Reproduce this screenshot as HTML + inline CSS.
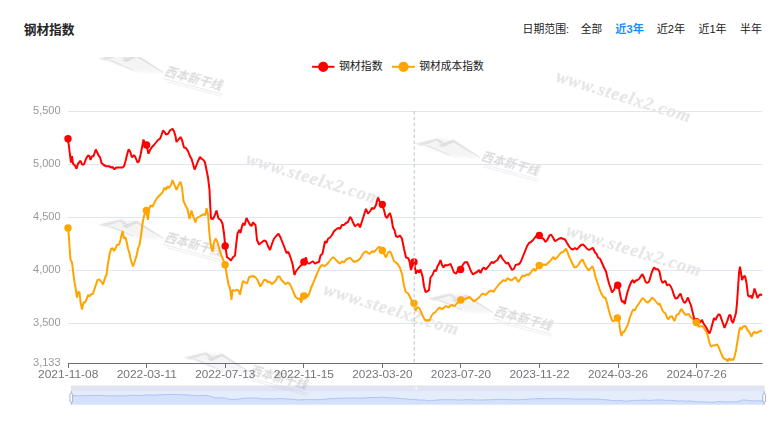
<!DOCTYPE html>
<html lang="zh"><head><meta charset="utf-8"><title>钢材指数</title>
<style>html,body{margin:0;padding:0;background:#fff;width:772px;height:424px;overflow:hidden;font-family:"Liberation Sans",sans-serif}</style>
</head><body>
<svg width="772" height="424" viewBox="0 0 772 424" style="display:block;position:absolute;left:0;top:0">
<defs><filter id="bl" x="-20%" y="-40%" width="140%" height="180%"><feGaussianBlur stdDeviation="1.6"/></filter><filter id="b2" x="-5%" y="-20%" width="110%" height="140%"><feGaussianBlur stdDeviation="0.35"/></filter></defs>
<rect width="772" height="424" fill="#fff"/>
<clipPath id="wmc"><rect x="0" y="57" width="772" height="367"/></clipPath><g clip-path="url(#wmc)">
<g transform="translate(98 58.6) rotate(15)" fill="#000"><path filter="url(#bl)" opacity="0.04" d="M2,-1 L20,-11 L37,-14 L66,-3 L42,3 L14,0.5 Z"/><path opacity="0.075" d="M0,0 L21,-11.2 L28.5,-8 L24.5,-6.6 L20.5,-8.6 L7,0.4 Z"/><path opacity="0.085" d="M23.5,-5 L36.4,-14 L67.5,-3.9 L66.5,-3 L37,-11.2 L28,-3.8 Z"/><path opacity="0.075" d="M8,-0.6 L14,-2 L37.3,1.5 L36.2,2.6 L14,-0.5 Z"/><g transform="translate(70.2 -11.8) skewX(-13)" opacity="0.15" filter="url(#b2)"><text x="0" y="10.9" font-family="Liberation Sans, Noto Sans CJK SC, sans-serif" font-weight="bold" font-size="12" fill="#000" textLength="59" lengthAdjust="spacingAndGlyphs">西本新干线</text></g><rect x="68" y="1.9" width="62" height="0.7" opacity="0.10"/><rect x="72" y="3.6" width="57" height="1.7" opacity="0.045"/></g>
<g transform="translate(414.7 143.7) rotate(15)" fill="#000"><path filter="url(#bl)" opacity="0.04" d="M2,-1 L20,-11 L37,-14 L66,-3 L42,3 L14,0.5 Z"/><path opacity="0.075" d="M0,0 L21,-11.2 L28.5,-8 L24.5,-6.6 L20.5,-8.6 L7,0.4 Z"/><path opacity="0.085" d="M23.5,-5 L36.4,-14 L67.5,-3.9 L66.5,-3 L37,-11.2 L28,-3.8 Z"/><path opacity="0.075" d="M8,-0.6 L14,-2 L37.3,1.5 L36.2,2.6 L14,-0.5 Z"/><g transform="translate(70.2 -11.8) skewX(-13)" opacity="0.15" filter="url(#b2)"><text x="0" y="10.9" font-family="Liberation Sans, Noto Sans CJK SC, sans-serif" font-weight="bold" font-size="12" fill="#000" textLength="59" lengthAdjust="spacingAndGlyphs">西本新干线</text></g><rect x="68" y="1.9" width="62" height="0.7" opacity="0.10"/><rect x="72" y="3.6" width="57" height="1.7" opacity="0.045"/></g>
<g transform="translate(98 224.6) rotate(15)" fill="#000"><path filter="url(#bl)" opacity="0.04" d="M2,-1 L20,-11 L37,-14 L66,-3 L42,3 L14,0.5 Z"/><path opacity="0.075" d="M0,0 L21,-11.2 L28.5,-8 L24.5,-6.6 L20.5,-8.6 L7,0.4 Z"/><path opacity="0.085" d="M23.5,-5 L36.4,-14 L67.5,-3.9 L66.5,-3 L37,-11.2 L28,-3.8 Z"/><path opacity="0.075" d="M8,-0.6 L14,-2 L37.3,1.5 L36.2,2.6 L14,-0.5 Z"/><g transform="translate(70.2 -11.8) skewX(-13)" opacity="0.15" filter="url(#b2)"><text x="0" y="10.9" font-family="Liberation Sans, Noto Sans CJK SC, sans-serif" font-weight="bold" font-size="12" fill="#000" textLength="59" lengthAdjust="spacingAndGlyphs">西本新干线</text></g><rect x="68" y="1.9" width="62" height="0.7" opacity="0.10"/><rect x="72" y="3.6" width="57" height="1.7" opacity="0.045"/></g>
<g transform="translate(427.6 298.6) rotate(15)" fill="#000"><path filter="url(#bl)" opacity="0.04" d="M2,-1 L20,-11 L37,-14 L66,-3 L42,3 L14,0.5 Z"/><path opacity="0.075" d="M0,0 L21,-11.2 L28.5,-8 L24.5,-6.6 L20.5,-8.6 L7,0.4 Z"/><path opacity="0.085" d="M23.5,-5 L36.4,-14 L67.5,-3.9 L66.5,-3 L37,-11.2 L28,-3.8 Z"/><path opacity="0.075" d="M8,-0.6 L14,-2 L37.3,1.5 L36.2,2.6 L14,-0.5 Z"/><g transform="translate(70.2 -11.8) skewX(-13)" opacity="0.15" filter="url(#b2)"><text x="0" y="10.9" font-family="Liberation Sans, Noto Sans CJK SC, sans-serif" font-weight="bold" font-size="12" fill="#000" textLength="59" lengthAdjust="spacingAndGlyphs">西本新干线</text></g><rect x="68" y="1.9" width="62" height="0.7" opacity="0.10"/><rect x="72" y="3.6" width="57" height="1.7" opacity="0.045"/></g>
<g transform="translate(183.2 357.6) rotate(15)" fill="#000"><path filter="url(#bl)" opacity="0.04" d="M2,-1 L20,-11 L37,-14 L66,-3 L42,3 L14,0.5 Z"/><path opacity="0.075" d="M0,0 L21,-11.2 L28.5,-8 L24.5,-6.6 L20.5,-8.6 L7,0.4 Z"/><path opacity="0.085" d="M23.5,-5 L36.4,-14 L67.5,-3.9 L66.5,-3 L37,-11.2 L28,-3.8 Z"/><path opacity="0.075" d="M8,-0.6 L14,-2 L37.3,1.5 L36.2,2.6 L14,-0.5 Z"/><g transform="translate(70.2 -11.8) skewX(-13)" opacity="0.15" filter="url(#b2)"><text x="0" y="10.9" font-family="Liberation Sans, Noto Sans CJK SC, sans-serif" font-weight="bold" font-size="12" fill="#000" textLength="59" lengthAdjust="spacingAndGlyphs">西本新干线</text></g><rect x="68" y="1.9" width="62" height="0.7" opacity="0.10"/><rect x="72" y="3.6" width="57" height="1.7" opacity="0.045"/></g>
<text transform="translate(554.9 81) rotate(17.2)" font-family="Liberation Serif, serif" font-weight="bold" font-style="italic" font-size="18" fill="#000" stroke="#000" stroke-width="0.45" opacity="0.095" textLength="140" lengthAdjust="spacing">www.steelx2.com</text>
<text transform="translate(244.9 163.2) rotate(17.2)" font-family="Liberation Serif, serif" font-weight="bold" font-style="italic" font-size="18" fill="#000" stroke="#000" stroke-width="0.45" opacity="0.095" textLength="140" lengthAdjust="spacing">www.steelx2.com</text>
<text transform="translate(565.2 234.9) rotate(17.2)" font-family="Liberation Serif, serif" font-weight="bold" font-style="italic" font-size="18" fill="#000" stroke="#000" stroke-width="0.45" opacity="0.095" textLength="140" lengthAdjust="spacing">www.steelx2.com</text>
<text transform="translate(322.6 294) rotate(17.2)" font-family="Liberation Serif, serif" font-weight="bold" font-style="italic" font-size="18" fill="#000" stroke="#000" stroke-width="0.45" opacity="0.095" textLength="140" lengthAdjust="spacing">www.steelx2.com</text>
</g>
<text x="23.7" y="33.9" font-family="Liberation Sans, Noto Sans CJK SC, sans-serif" font-weight="bold" font-size="12.7" fill="#262626" textLength="50.8" lengthAdjust="spacingAndGlyphs">钢材指数</text>
<text x="522.6" y="33.2" font-family="Liberation Sans, Noto Sans CJK SC, sans-serif" font-size="11" fill="#222" textLength="46.5" lengthAdjust="spacingAndGlyphs">日期范围:</text>
<text x="580.8" y="33.2" font-family="Liberation Sans, Noto Sans CJK SC, sans-serif" font-size="11" fill="#222" textLength="21.3" lengthAdjust="spacingAndGlyphs">全部</text>
<text x="615.3" y="33.2" font-family="Liberation Sans, Noto Sans CJK SC, sans-serif" font-weight="bold" font-size="11" fill="#1890ff" textLength="28.7" lengthAdjust="spacingAndGlyphs">近3年</text>
<text x="656.7" y="33.2" font-family="Liberation Sans, Noto Sans CJK SC, sans-serif" font-size="11" fill="#222" textLength="28.6" lengthAdjust="spacingAndGlyphs">近2年</text>
<text x="698.5" y="33.2" font-family="Liberation Sans, Noto Sans CJK SC, sans-serif" font-size="11" fill="#222" textLength="28.1" lengthAdjust="spacingAndGlyphs">近1年</text>
<text x="740" y="33.2" font-family="Liberation Sans, Noto Sans CJK SC, sans-serif" font-size="11" fill="#222" textLength="21.9" lengthAdjust="spacingAndGlyphs">半年</text>
<line x1="312.1" y1="66.8" x2="334.5" y2="66.8" stroke="#ff0000" stroke-width="2"/>
<circle cx="323.2" cy="66.8" r="5.1" fill="#ff0000"/>
<text x="338.9" y="70" font-family="Liberation Sans, Noto Sans CJK SC, sans-serif" font-size="11" fill="#222" textLength="43.7" lengthAdjust="spacingAndGlyphs">钢材指数</text>
<line x1="392" y1="66.8" x2="414.8" y2="66.8" stroke="#ffa500" stroke-width="2"/>
<circle cx="403.5" cy="66.8" r="5.1" fill="#ffa500"/>
<text x="419.2" y="70" font-family="Liberation Sans, Noto Sans CJK SC, sans-serif" font-size="11" fill="#222" textLength="64.5" lengthAdjust="spacingAndGlyphs">钢材成本指数</text>
<line x1="68" y1="111.5" x2="762" y2="111.5" stroke="#E0E6F1" stroke-width="1"/>
<line x1="68" y1="164.5" x2="762" y2="164.5" stroke="#E0E6F1" stroke-width="1"/>
<line x1="68" y1="217.5" x2="762" y2="217.5" stroke="#E0E6F1" stroke-width="1"/>
<line x1="68" y1="270.5" x2="762" y2="270.5" stroke="#E0E6F1" stroke-width="1"/>
<line x1="68" y1="323.5" x2="762" y2="323.5" stroke="#E0E6F1" stroke-width="1"/>
<g id="txt" opacity="0.999">
<text x="60.6" y="113.7" text-anchor="end" font-family="Liberation Sans, sans-serif" font-size="11.3" fill="#999" textLength="27.6" lengthAdjust="spacingAndGlyphs">5,500</text>
<text x="60.6" y="166.7" text-anchor="end" font-family="Liberation Sans, sans-serif" font-size="11.3" fill="#999" textLength="27.6" lengthAdjust="spacingAndGlyphs">5,000</text>
<text x="60.6" y="219.7" text-anchor="end" font-family="Liberation Sans, sans-serif" font-size="11.3" fill="#999" textLength="27.6" lengthAdjust="spacingAndGlyphs">4,500</text>
<text x="60.6" y="272.7" text-anchor="end" font-family="Liberation Sans, sans-serif" font-size="11.3" fill="#999" textLength="27.6" lengthAdjust="spacingAndGlyphs">4,000</text>
<text x="60.6" y="325.7" text-anchor="end" font-family="Liberation Sans, sans-serif" font-size="11.3" fill="#999" textLength="27.6" lengthAdjust="spacingAndGlyphs">3,500</text>
<text x="60.6" y="365.7" text-anchor="end" font-family="Liberation Sans, sans-serif" font-size="11.3" fill="#999" textLength="27.6" lengthAdjust="spacingAndGlyphs">3,133</text>
<line x1="68" y1="363.5" x2="762.5" y2="363.5" stroke="#6E7079" stroke-width="1"/>
<line x1="68.5" y1="363.5" x2="68.5" y2="368.0" stroke="#6E7079" stroke-width="1"/>
<line x1="146.5" y1="363.5" x2="146.5" y2="368.0" stroke="#6E7079" stroke-width="1"/>
<line x1="225.5" y1="363.5" x2="225.5" y2="368.0" stroke="#6E7079" stroke-width="1"/>
<line x1="303.5" y1="363.5" x2="303.5" y2="368.0" stroke="#6E7079" stroke-width="1"/>
<line x1="382.5" y1="363.5" x2="382.5" y2="368.0" stroke="#6E7079" stroke-width="1"/>
<line x1="460.5" y1="363.5" x2="460.5" y2="368.0" stroke="#6E7079" stroke-width="1"/>
<line x1="539.5" y1="363.5" x2="539.5" y2="368.0" stroke="#6E7079" stroke-width="1"/>
<line x1="618.5" y1="363.5" x2="618.5" y2="368.0" stroke="#6E7079" stroke-width="1"/>
<line x1="696.5" y1="363.5" x2="696.5" y2="368.0" stroke="#6E7079" stroke-width="1"/>
<text x="68.2" y="377.8" text-anchor="middle" font-family="Liberation Sans, sans-serif" font-size="10.2" fill="#73757e" textLength="60.2" lengthAdjust="spacingAndGlyphs">2021-11-08</text>
<text x="146.75" y="377.8" text-anchor="middle" font-family="Liberation Sans, sans-serif" font-size="10.2" fill="#73757e" textLength="60.2" lengthAdjust="spacingAndGlyphs">2022-03-11</text>
<text x="225.3" y="377.8" text-anchor="middle" font-family="Liberation Sans, sans-serif" font-size="10.2" fill="#73757e" textLength="60.2" lengthAdjust="spacingAndGlyphs">2022-07-13</text>
<text x="303.85" y="377.8" text-anchor="middle" font-family="Liberation Sans, sans-serif" font-size="10.2" fill="#73757e" textLength="60.2" lengthAdjust="spacingAndGlyphs">2022-11-15</text>
<text x="382.4" y="377.8" text-anchor="middle" font-family="Liberation Sans, sans-serif" font-size="10.2" fill="#73757e" textLength="60.2" lengthAdjust="spacingAndGlyphs">2023-03-20</text>
<text x="460.95" y="377.8" text-anchor="middle" font-family="Liberation Sans, sans-serif" font-size="10.2" fill="#73757e" textLength="60.2" lengthAdjust="spacingAndGlyphs">2023-07-20</text>
<text x="539.5" y="377.8" text-anchor="middle" font-family="Liberation Sans, sans-serif" font-size="10.2" fill="#73757e" textLength="60.2" lengthAdjust="spacingAndGlyphs">2023-11-22</text>
<text x="618.05" y="377.8" text-anchor="middle" font-family="Liberation Sans, sans-serif" font-size="10.2" fill="#73757e" textLength="60.2" lengthAdjust="spacingAndGlyphs">2024-03-26</text>
<text x="696.6" y="377.8" text-anchor="middle" font-family="Liberation Sans, sans-serif" font-size="10.2" fill="#73757e" textLength="60.2" lengthAdjust="spacingAndGlyphs">2024-07-26</text>
</g>
<polyline fill="none" stroke="#ffa500" stroke-width="2" stroke-linejoin="bevel" points="68.25,228 69.5,246 70.5,259.75 72,262.25 73,271 74.5,282.25 75.5,287.5 77,297.5 78,292 79.5,292.5 80.5,302 82,309.5 83.5,302.5 85,302.5 86.5,299.5 88,295 89.5,296.25 91,294.5 93,293.75 95,287.5 97.5,280 99.5,279.5 101.5,282 103,284.5 105,278 106.5,274.75 108,263.5 109.5,254.75 111,249 112.5,248 114,251 115.5,248.5 117,244.75 119,244.75 120.5,239.75 122.5,231 124,238.5 125.5,237.25 127,243.5 128,248.5 129.5,253.5 131,260.5 133,266.5 134.5,262.25 136.5,256 138,248.5 139.5,244.75 141,236 142.5,223.5 144,216 146.25,210.5 148,219.75 149,210 150.5,205.25 152.5,206.75 155,201.25 157.5,197.5 160,195 162.5,192.5 164.5,187.5 166,190 167.5,186.25 169,188 171,185 172.5,180 174.5,185 176.5,190 178.5,185 180.5,181.75 182,187.5 183.5,201 185.5,205.5 187.5,209.25 189.5,219 191.5,210.5 193.5,217.25 195.5,222.5 196.5,218.4 197.9,217.5 199.7,216.5 201.6,215.3 204.1,214.3 205.3,215.3 206.6,208.1 208.1,215 209,228.5 210,239.75 211.5,248.5 212.5,251.5 214,242.25 215.5,238.5 217.5,242.25 219.5,249.75 221.5,256 223.5,260.5 225,264.75 227,276 228.5,284.75 230,288 231.5,299.75 232.5,289.75 234.5,291 236.5,289.75 238.5,290.5 240,294.75 241.5,287.25 243,281 245,282.25 247,283.5 249,277.25 251,276.5 253,276 255.5,277.25 257.5,280 260.25,286.5 262.25,283.25 264.25,279.75 266.25,280.25 268.25,282.5 269.75,281.5 271.75,284.25 273.75,282.5 275.75,280.5 277.75,276.5 279.5,276.5 281.5,280 283.5,282 285.5,284.25 287.5,282.75 289.5,283.5 291.5,287.25 293.5,292.25 295.5,297 298,299 300,298.25 301,302.5 303.75,296 306,293.25 307.5,297 309.5,293 311,288 313,283.5 315,278.5 317,274 319,269 321,265.75 322.5,265 324.5,266.25 326.5,264.5 328.5,262.5 330.5,260 332.5,257.5 334,257.5 336,260 338,262 340,263.75 342,261.25 344,262.5 346,259.5 348,258.75 350,257.5 352,260 354,262 356,261.25 358,260.5 360,258.75 362,255.5 364,252.5 366,251.25 368,253 370,253.75 372,251.25 374,252 376,250 378,247.5 380,247 382,250.5 384,253.75 386,257.5 388,252.5 390,251.25 392,255.5 394,261.25 396,262.5 398,264.5 400.25,268.5 402.25,275 403.75,284.5 405.75,292 408.25,293.5 410.5,298.25 413.25,303.25 415.5,310.75 417.5,307 419.5,308.25 421.5,313.25 423.5,317.5 425.5,320.75 427.5,320 429.5,320.75 431.5,315.75 433.5,313.25 435.5,312 437.5,309.5 439.5,307.5 441.5,309 443.5,308.25 446,306 448.5,307.5 450.5,305.5 452.5,305 454.5,306.25 456.5,303.75 458.5,302 461,300 463.5,299.5 465.5,298.75 467.5,298 469.5,297 471.5,298.75 473.5,301.25 475.5,300.5 477.5,298.75 479.5,297 481.5,294.5 483.5,293.75 485.5,295 487.5,293 489.5,291.25 491.5,290.5 493.5,292 495.5,288.75 497.5,286.25 499.5,283.75 501.5,282 503.5,280 505.5,281.25 507.5,278 509.5,279.5 511.5,280.5 513.5,278.75 515.5,277 517,280 518.5,282 520.5,278.75 522.5,275.5 524.5,276.25 526.5,274.5 528.5,275 530.5,273 532.5,270 534,268.75 535.5,271.25 537,267.5 539.25,265.5 542,265 544,264.5 546,265 548,263 550,261.25 552,258.75 553.5,257 555,259.5 557,257.5 559,255 561,252.5 563,252 564.5,250.5 566,248.75 567.5,252 569,256.25 570.5,259.5 572.5,263.75 574.5,267.5 576.5,267 578.5,264.5 580.5,261.25 582.5,259.5 584.5,263.75 586.5,267.5 588.5,270.5 590.5,268.5 592.5,266 594,270.5 595.5,277 597.5,283 599.5,289 601.5,294 603.5,297 605.5,298 607,303 608.5,309 610,314.5 611.5,319 613,321.5 615,320 617.4,318 619,320.5 620,329.25 621.5,336 623,331.75 624.5,331.75 626,328 627.5,325.5 629,320.5 630.5,316 632,311.75 633.5,309.25 635,310.5 636.5,306.75 638.5,304.25 640.5,301 642.5,298 644,299.25 646,301.75 648,302.5 650,300.5 652,297.5 654,299.25 656,301.75 658,304.25 659.5,303.5 661,306.75 662.5,310.5 664,312.5 665.5,313.5 667,317.5 668.5,319.25 670,316.75 672,316.1 673.3,319 674.5,321 675.6,318 676.7,314.8 678.8,313.9 680,311.5 681.3,308.9 682.4,310.5 683.5,312.4 685.4,314.8 687,314.5 688.5,313.9 689.6,315.5 690.7,317.3 693.1,319.2 696.4,322.2 698.7,326.7 702.5,326 705,329.8 706.5,332 708,336.5 709.5,343 711,346.75 713,345.5 715,345.5 717,344.25 718.5,346.75 720,350.5 721.5,354.25 723,357.5 725,359.25 726.5,359.25 727.5,361.75 729,358.5 730.5,360 732,359.25 733.5,360 734.5,356.75 736,350.5 737,344.25 738,338 739,331.75 740,327.5 741.5,329.25 743,326.75 744.5,326 746,326.75 747.5,330 749,331.75 750.5,334.25 751.5,336.75 753,333 754.5,331.75 756,333 757.5,332.5 759,331.75 760.5,331 762,330.5"/>
<polyline fill="none" stroke="#ff0000" stroke-width="2" stroke-linejoin="bevel" points="68,138.75 70,155 71,162.5 72,156.25 73,163.75 75,165.5 76.5,168.75 78,163.75 80.5,160.75 82,164.5 84,164.5 86,158.75 88,155.5 89.5,156.25 90.5,160 92,156.25 93.5,156.25 95.75,149.5 97.5,153 99,156.25 100,157 101.5,163 103.75,165 106.25,166.25 108.75,166.25 111.25,167.5 112.5,167 114.5,169.25 116.25,167.5 122.5,167.5 124,166.25 125.5,161.25 127,155 128.5,149.5 130,151.25 132,157.5 134,155 135.5,157.5 137.5,162.5 139,161.25 140.5,155 142,147.5 143.5,139.5 144.5,142.5 146.5,145 148.5,153.75 150,150 152,147 154,145 156,142.5 158,140 160,138.75 161.5,135 163,130.5 164.5,132 166,134.5 168,133.75 170,130.5 172.5,128.75 174,131.25 175.5,136.25 176.5,142 178.5,139.5 180.5,137 182,140 184,147.5 186,148 188,151.25 190,156.25 191.5,158.75 193,163.75 194.5,169.5 196,166.25 198,161.25 200,157 201.5,158.75 203.5,160 205,162.5 206.5,170 208,177.5 209.5,190 210.2,205 211,218.5 213,219 214.5,216 216.5,210.5 218.5,218.5 220.5,219.75 222.5,223.5 224,233.5 225.25,246 227,257.25 229,258.5 231,260.5 233,257.25 235,255.5 236,246 237.5,233.5 239.5,229.75 240.5,233 242,226 243.5,223 244.5,225.5 246.5,218 248,221 250,224.75 251.5,226 253,222.5 255.5,225 257,240 259,244.5 261.5,242.5 264,240.5 266,241.25 268,246.25 270,250 272,243.75 274,238.75 276,236.25 278.5,233.75 280.5,237.5 282.5,242.5 284.5,247.5 286.5,253 288.5,252 290.5,257.5 292.5,263.75 294.5,275 296,271.25 298,268.75 300,266.25 302,264.5 304,262 306,257.5 307,262.5 309,263.75 311,262.5 313,261.25 315,263.75 317,262.5 319,262 320.5,255.5 322.5,253.75 324,246.25 325,241.25 326.5,243 328,238.75 330,237.5 332,235 334,231.25 336,229.5 338,228 340,228.75 342,225 344,225 346,223 348,222 350,217 351.5,218.75 353,222.5 355,226.25 357,225 358.5,223.75 360,227.5 362,221.25 364,215 366,208.75 368,213.75 370,211.25 372,208 374,208.75 376,205 378,197.5 379.5,201.25 382,204.5 384,210 385.5,216.25 387,218 388.5,215 390,213 391.5,218.75 393,227.5 394.5,230 396,236.25 398,237 400,235.5 402,238.75 404,248.75 406,257.5 408,258 409.5,261.25 411,270 413.25,262 414.5,265 416,273.75 417.5,270 419,272.5 420.5,269.5 422.5,276.25 424,286.25 425.5,292 427.5,291.25 429,290 430.5,277.5 432.5,275 434.5,270 436,271.25 437.5,266.25 439,263.75 440.5,260 442,265 443.5,267.5 445,265 446,265.5 448.5,265 450.5,263.75 452,267.5 454,272.5 456,273.75 458,270 460.5,269.5 462.5,265.5 464.5,262.5 467,262 469,266.25 471,271.25 473,274.5 475,273 477,272 479,270 480.5,273 482.5,268.75 484,267.5 485.5,269.5 487.5,267.5 489.5,265 491.5,262 493.5,263 495.5,261.25 497.5,260 499,257 500.5,255 502.5,258.75 504.5,261.25 506.5,263.75 508,262.5 510,266.25 512,270 514,268.75 515.5,265 517.5,264.5 519.5,263.75 521,261.25 523,256.25 525,251.25 527,246.25 529,243 531,242 533,240 535,237.5 537,235.5 539.25,235.5 541.5,238 543.5,238.75 545.5,242 547.5,239.5 549.5,235.5 551,234.5 553,237.5 555,241.25 557,240 559,238.75 561,238 563,238.75 565,239.5 567,243 569,246.25 571,248.75 573,249.5 575,248 577,249.5 579,247 581,245 583,244.5 585,246.25 587,248.75 589,250 591,248.75 593,248 595,252.5 596.5,253.75 598,257.5 600,258.75 602,263 604,267.5 606,271.5 607.5,277.75 609,283.5 610.5,287.75 612,292.5 614,290 615.5,286 617.6,285.25 619,288.5 620.5,296.5 622,302 623.5,301 624.75,304 626,298 627.5,292 629.5,286 631.5,281.5 633,280 634,283 635.5,280.75 637.5,280 639,279 641,276 642.5,274.25 644,277.5 645.5,281.75 647,283 649,281.75 650.5,276.75 652,271.75 654,267.5 656,269.25 658,269.25 659.5,271.75 661,279.25 662.5,283 664,281.75 665.5,281 667,285.5 669,284.25 671,286.75 672.5,290.5 674,295.5 675.5,298.5 677.5,298 679,295.5 680.5,293.5 682,298 683.5,301.75 685,303 686.5,300.5 688,297.5 689.5,301.75 691,305.5 692.5,311.75 694,318 696.5,321.75 699,323 700.5,321.75 702,320 703.5,323.5 705,325.5 706.5,328 708,331 709.5,333.5 711,329.25 712.5,323.5 714,318 715.5,320 717,316.75 718.5,314.25 720,315 721.5,319.25 723,323.5 724.5,328 726,324.25 727.5,320.5 729,315.5 730.5,315 731.5,320.5 733,323 734.5,318 736,313 737,303 738,288 739,273 740,266.75 741,273 742,280 743.5,276.75 745,276 746.5,283 748,295.5 749.5,296.75 751,295.5 752,298.5 753.5,293 754.5,288.5 756,293 757.5,298 759,295.5 760.5,294.25 762,295.5"/>
<circle cx="68" cy="138.75" r="3.7" fill="#ff0000"/>
<circle cx="146.6" cy="145" r="3.7" fill="#ff0000"/>
<circle cx="225.2" cy="246" r="3.7" fill="#ff0000"/>
<circle cx="303.9" cy="262" r="3.7" fill="#ff0000"/>
<circle cx="382.3" cy="204.5" r="3.7" fill="#ff0000"/>
<circle cx="414" cy="262" r="3.7" fill="#ff0000"/>
<circle cx="460.6" cy="269.5" r="3.7" fill="#ff0000"/>
<circle cx="539.3" cy="235.5" r="3.7" fill="#ff0000"/>
<circle cx="617.7" cy="285.25" r="3.7" fill="#ff0000"/>
<circle cx="696.4" cy="321.75" r="3.7" fill="#ff0000"/>
<circle cx="68" cy="228" r="3.7" fill="#ffa500"/>
<circle cx="146.4" cy="210.5" r="3.7" fill="#ffa500"/>
<circle cx="225.1" cy="264.75" r="3.7" fill="#ffa500"/>
<circle cx="303.7" cy="296" r="3.7" fill="#ffa500"/>
<circle cx="382.3" cy="250.5" r="3.7" fill="#ffa500"/>
<circle cx="414" cy="303.25" r="3.7" fill="#ffa500"/>
<circle cx="460.8" cy="300" r="3.7" fill="#ffa500"/>
<circle cx="539.3" cy="265.5" r="3.7" fill="#ffa500"/>
<circle cx="617.4" cy="318" r="3.7" fill="#ffa500"/>
<circle cx="696.4" cy="322.5" r="3.7" fill="#ffa500"/>
<line x1="414.25" y1="111" x2="414.25" y2="363" stroke="#bfc3ce" stroke-width="1" stroke-dasharray="3.5 2.4"/>
<rect x="71" y="385.5" width="693.5" height="5.6" fill="rgba(148,162,212,0.3)"/>
<rect x="71" y="391.1" width="693.5" height="13.6" fill="rgba(125,165,245,0.2)"/>
<polygon fill="rgba(125,165,245,0.17)" points="71,404.7 71,394.75 74,395.69 76,395.74 79.49,395.93 83.49,395.62 86.99,395.76 90.99,395.41 93.48,395.59 96.48,395.44 100.48,395.31 102.98,395.47 106.72,395.78 111.72,395.83 115.47,395.86 119.22,395.88 126.96,395.83 129.96,395.39 132.96,395.24 136.95,395.39 140.45,395.69 143.45,395.39 146.45,394.78 149.44,395 152.94,395.19 156.94,395 160.94,394.8 164.43,394.61 167.43,394.49 170.93,394.56 175.42,394.36 178.42,394.65 181.42,394.78 184.92,394.8 188.91,395.12 192.91,395.44 195.91,395.74 198.91,395.83 202.9,395.47 206.4,395.59 209.4,395.98 212.4,396.77 213.9,397.89 217.39,397.79 221.39,397.89 225.39,398.08 228.14,398.97 231.88,399.46 235.88,399.41 238.88,398.97 242.38,398.33 244.87,398.18 247.37,398.16 250.87,397.99 254.37,398.18 258.36,398.14 261.86,398.91 266.86,398.75 270.86,398.98 274.85,398.88 278.85,398.58 283.35,398.63 287.34,399.03 291.34,399.2 295.34,399.67 298.84,399.96 302.83,399.76 306.83,399.6 309.83,399.62 313.82,399.62 317.82,399.67 321.82,399.6 325.32,399.27 327.81,398.78 330.81,398.68 334.81,398.54 338.81,398.32 342.8,398.29 346.8,398.14 350.8,398.02 354.3,397.9 357.79,398.19 361.29,398.09 364.79,398 368.79,397.5 372.78,397.6 376.78,397.5 380.78,397.06 384.77,397.34 388.27,397.8 391.27,397.75 394.27,397.9 397.26,398.34 400.76,398.61 404.76,398.68 408.76,399.42 412.25,399.57 416,399.6 418.75,400.06 421.75,400.01 425.24,400.16 428.24,400.78 431.74,400.7 435.24,400.11 438.73,399.96 441.73,399.67 444.73,399.71 447.73,399.71 451.23,399.71 454.72,399.81 458.72,400.06 463.22,399.89 467.21,399.62 471.71,399.76 475.71,400.09 479.71,399.99 483.2,400.03 486.7,399.81 490.2,399.81 494.19,399.6 498.19,399.57 501.69,399.4 505.19,399.47 509.18,399.67 512.68,399.76 516.68,399.86 520.18,399.69 523.67,399.57 527.67,399.17 531.67,398.85 535.66,398.73 539.66,398.56 544.16,398.65 548.16,398.81 552.15,398.56 555.65,398.63 559.65,398.73 563.64,398.65 567.64,398.71 571.64,398.98 575.64,399.11 579.63,399.11 583.63,398.93 587.63,398.98 591.62,399.12 595.62,399.05 599.12,399.27 602.62,399.47 606.61,399.81 610.11,400.22 613.11,400.61 616.61,400.7 620.2,400.51 623.1,400.95 626.1,401.13 628.6,401.01 632.1,400.54 635.59,400.3 638.09,400.33 641.59,400.26 645.09,400.08 648.08,400.37 651.58,400.37 654.58,399.98 658.58,399.88 662.07,399.98 665.07,400.42 668.07,400.34 671.57,400.47 675.06,400.72 678.06,401.03 681.56,400.91 684.56,401.01 687.56,401.21 690.55,400.99 693.55,401.31 696.55,401.8 701.55,401.99 704.54,401.88 707.54,402.09 710.54,402.31 713.54,402.24 716.53,401.8 719.53,401.75 722.53,401.68 725.53,402.01 728.53,402.04 731.52,401.7 734.02,401.9 737.02,401.8 739.52,401.21 741.52,400.03 743.52,400.03 746.01,400.18 749.01,400.42 752.01,400.96 754.51,401.03 757.01,400.64 760,401.01 763,400.86 764.5,404.7"/>
<polyline fill="none" stroke="#adc4f6" stroke-width="1" points="71,394.75 74,395.69 76,395.74 79.49,395.93 83.49,395.62 86.99,395.76 90.99,395.41 93.48,395.59 96.48,395.44 100.48,395.31 102.98,395.47 106.72,395.78 111.72,395.83 115.47,395.86 119.22,395.88 126.96,395.83 129.96,395.39 132.96,395.24 136.95,395.39 140.45,395.69 143.45,395.39 146.45,394.78 149.44,395 152.94,395.19 156.94,395 160.94,394.8 164.43,394.61 167.43,394.49 170.93,394.56 175.42,394.36 178.42,394.65 181.42,394.78 184.92,394.8 188.91,395.12 192.91,395.44 195.91,395.74 198.91,395.83 202.9,395.47 206.4,395.59 209.4,395.98 212.4,396.77 213.9,397.89 217.39,397.79 221.39,397.89 225.39,398.08 228.14,398.97 231.88,399.46 235.88,399.41 238.88,398.97 242.38,398.33 244.87,398.18 247.37,398.16 250.87,397.99 254.37,398.18 258.36,398.14 261.86,398.91 266.86,398.75 270.86,398.98 274.85,398.88 278.85,398.58 283.35,398.63 287.34,399.03 291.34,399.2 295.34,399.67 298.84,399.96 302.83,399.76 306.83,399.6 309.83,399.62 313.82,399.62 317.82,399.67 321.82,399.6 325.32,399.27 327.81,398.78 330.81,398.68 334.81,398.54 338.81,398.32 342.8,398.29 346.8,398.14 350.8,398.02 354.3,397.9 357.79,398.19 361.29,398.09 364.79,398 368.79,397.5 372.78,397.6 376.78,397.5 380.78,397.06 384.77,397.34 388.27,397.8 391.27,397.75 394.27,397.9 397.26,398.34 400.76,398.61 404.76,398.68 408.76,399.42 412.25,399.57 416,399.6 418.75,400.06 421.75,400.01 425.24,400.16 428.24,400.78 431.74,400.7 435.24,400.11 438.73,399.96 441.73,399.67 444.73,399.71 447.73,399.71 451.23,399.71 454.72,399.81 458.72,400.06 463.22,399.89 467.21,399.62 471.71,399.76 475.71,400.09 479.71,399.99 483.2,400.03 486.7,399.81 490.2,399.81 494.19,399.6 498.19,399.57 501.69,399.4 505.19,399.47 509.18,399.67 512.68,399.76 516.68,399.86 520.18,399.69 523.67,399.57 527.67,399.17 531.67,398.85 535.66,398.73 539.66,398.56 544.16,398.65 548.16,398.81 552.15,398.56 555.65,398.63 559.65,398.73 563.64,398.65 567.64,398.71 571.64,398.98 575.64,399.11 579.63,399.11 583.63,398.93 587.63,398.98 591.62,399.12 595.62,399.05 599.12,399.27 602.62,399.47 606.61,399.81 610.11,400.22 613.11,400.61 616.61,400.7 620.2,400.51 623.1,400.95 626.1,401.13 628.6,401.01 632.1,400.54 635.59,400.3 638.09,400.33 641.59,400.26 645.09,400.08 648.08,400.37 651.58,400.37 654.58,399.98 658.58,399.88 662.07,399.98 665.07,400.42 668.07,400.34 671.57,400.47 675.06,400.72 678.06,401.03 681.56,400.91 684.56,401.01 687.56,401.21 690.55,400.99 693.55,401.31 696.55,401.8 701.55,401.99 704.54,401.88 707.54,402.09 710.54,402.31 713.54,402.24 716.53,401.8 719.53,401.75 722.53,401.68 725.53,402.01 728.53,402.04 731.52,401.7 734.02,401.9 737.02,401.8 739.52,401.21 741.52,400.03 743.52,400.03 746.01,400.18 749.01,400.42 752.01,400.96 754.51,401.03 757.01,400.64 760,401.01 763,400.86"/>
<line x1="71.3" y1="391" x2="71.3" y2="404.7" stroke="#acb8d1" stroke-width="1"/>
<rect x="69.95" y="393.5" width="2.7" height="8.8" rx="1.3" fill="#fff" stroke="#a7b2cc" stroke-width="1"/>
<line x1="764.2" y1="391" x2="764.2" y2="404.7" stroke="#acb8d1" stroke-width="1"/>
<rect x="762.85" y="393.5" width="2.7" height="8.8" rx="1.3" fill="#fff" stroke="#a7b2cc" stroke-width="1"/>
<rect x="414.3" y="387.3" width="0.9" height="2.4" fill="#fff"/><rect x="416" y="387.3" width="0.9" height="2.4" fill="#fff"/>
</svg>
</body></html>
